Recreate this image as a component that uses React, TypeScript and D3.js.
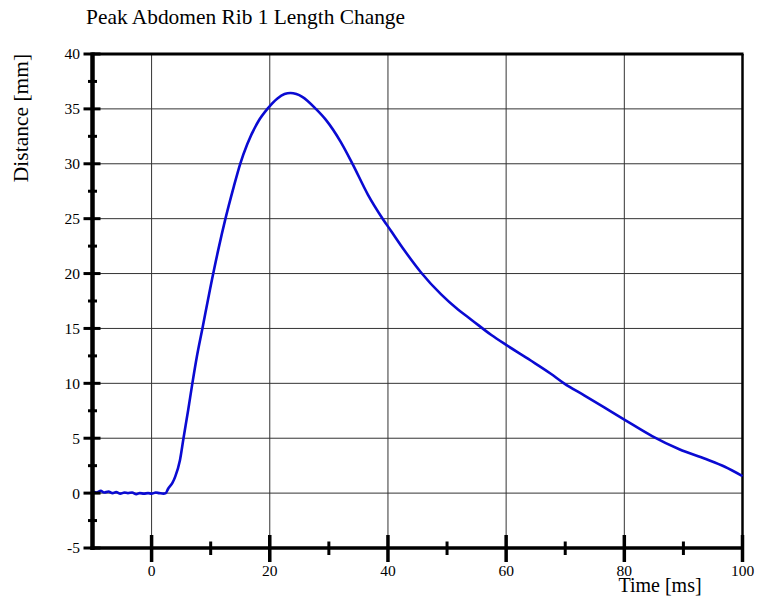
import React from "react";
import * as d3 from "d3";

const TITLE = "Peak Abdomen Rib 1 Length Change";
const X_LABEL = "Time [ms]";
const Y_LABEL = "Distance [mm]";

const timeMs = [
  -10, -9.3, -8.6, -8, -7.3, -6.6, -6, -5.3, -4.6, -4, -3.3, -2.6, -2, -1.3, -0.6, 0, 0.7, 1.3, 2, 2.4,
  2.8, 3.5, 4.0, 4.8, 5.4, 6.2, 6.9, 7.65, 8.6, 9.9, 11.3, 12.5, 13.9, 15, 16.2, 18.1, 19.6,
  21.3, 22.5, 23.5, 24.5, 25.5, 27.8, 29.5, 32, 34, 36.6, 39.1, 40.5, 42.8, 45.6, 49, 51.9, 54.1,
  57.5, 60, 64.1, 67.5, 69.8, 73.2, 76.6, 80, 84.7, 89.3, 93.8, 97, 100,
];
const distanceMm = [
  0.15, 0.05, 0.2, 0.05, 0.15, 0.0, 0.1, -0.05, 0.05, 0.0, 0.05, -0.1, 0.0, -0.05, 0.0, -0.05, 0.05, 0.0, -0.05, 0.0,
  0.4, 0.9, 1.5, 3.0, 5.0, 7.6, 10, 12.4, 15, 18.6, 22.2, 25, 27.9, 30, 31.8, 33.9, 35,
  35.95, 36.35, 36.45, 36.35, 36.1, 35, 34, 32, 30, 27.2, 25, 23.9, 22.1, 20.1, 18.1, 16.7, 15.8,
  14.4, 13.5, 12.1, 10.9, 10.0, 8.9, 7.8, 6.7, 5.2, 4.0, 3.1, 2.4, 1.55,
];

const xMajorTicks = [0, 20, 40, 60, 80, 100];
const xMinorTicks = [10, 30, 50, 70, 90];
const yMajorTicks = [-5, 0, 5, 10, 15, 20, 25, 30, 35, 40];
const yMinorTicks = [-2.5, 2.5, 7.5, 12.5, 17.5, 22.5, 27.5, 32.5, 37.5];

export default function App() {
  const W = 757;
  const H = 602;
  const left = 92.5;
  const right = 742.5;
  const top = 54;
  const bottom = 548;

  const x = d3.scaleLinear().domain([-10, 100]).range([left, right]);
  const y = d3.scaleLinear().domain([-5, 40]).range([bottom, top]);

  const pts = timeMs.map((t, i) => [t, distanceMm[i]] as [number, number]);
  const line = d3
    .line<[number, number]>()
    .x((d) => x(d[0]))
    .y((d) => y(d[1]))
    .curve(d3.curveMonotoneX);

  const font = "'Liberation Serif', 'Times New Roman', serif";

  return (
    <svg
      width={W}
      height={H}
      style={{ position: "absolute", left: 0, top: 0, background: "#fff" }}
      fontFamily={font}
    >
      {/* grid */}
      {xMajorTicks
        .filter((t) => t < 100)
        .map((t) => (
          <line key={"gx" + t} x1={x(t)} x2={x(t)} y1={top} y2={bottom} stroke="#333" strokeWidth={1} />
        ))}
      {yMajorTicks
        .filter((t) => t > -5 && t < 40)
        .map((t) => (
          <line key={"gy" + t} x1={left} x2={right} y1={y(t)} y2={y(t)} stroke="#333" strokeWidth={1} />
        ))}

      {/* frame */}
      <line x1={left - 1} x2={right + 1} y1={top} y2={top} stroke="#000" strokeWidth={3} />
      <line x1={right} x2={right} y1={top} y2={bottom} stroke="#000" strokeWidth={2.5} />

      {/* data */}
      <path d={line(pts) || ""} fill="none" stroke="#0a0ad2" strokeWidth={2.6} strokeLinejoin="round" />

      {/* axes */}
      <line x1={left} x2={left} y1={top - 1.5} y2={bottom + 2} stroke="#000" strokeWidth={4.5} />
      <line x1={left - 2} x2={right + 1.2} y1={bottom} y2={bottom} stroke="#000" strokeWidth={3.5} />

      {yMajorTicks.map((t) => (
        <g key={"yt" + t}>
          <line x1={left - 9} x2={left + 8} y1={y(t)} y2={y(t)} stroke="#000" strokeWidth={3} />
          <text x={80} y={y(t)} dy="0.35em" textAnchor="end" fontSize={15.5} fill="#000">
            {t}
          </text>
        </g>
      ))}
      {yMinorTicks.map((t) => (
        <line key={"ym" + t} x1={left - 4.5} x2={left + 4.5} y1={y(t)} y2={y(t)} stroke="#000" strokeWidth={3} />
      ))}

      {xMajorTicks.map((t) => (
        <g key={"xt" + t}>
          <line x1={x(t)} x2={x(t)} y1={bottom - 13} y2={bottom + 14} stroke="#000" strokeWidth={3.5} />
          <text x={x(t)} y={576} textAnchor="middle" fontSize={15.5} fill="#000">
            {t}
          </text>
        </g>
      ))}
      {xMinorTicks.map((t) => (
        <line key={"xm" + t} x1={x(t)} x2={x(t)} y1={bottom - 6.5} y2={bottom + 7} stroke="#000" strokeWidth={3} />
      ))}

      {/* labels */}
      <text x={86} y={24} fontSize={21.4} fill="#000">
        {TITLE}
      </text>
      <text x={660} y={592} textAnchor="middle" fontSize={20} fill="#000">
        {X_LABEL}
      </text>
      <text
        transform={`translate(28, 118) rotate(-90)`}
        textAnchor="middle"
        fontSize={21.5}
        fill="#000"
      >
        {Y_LABEL}
      </text>
    </svg>
  );
}
